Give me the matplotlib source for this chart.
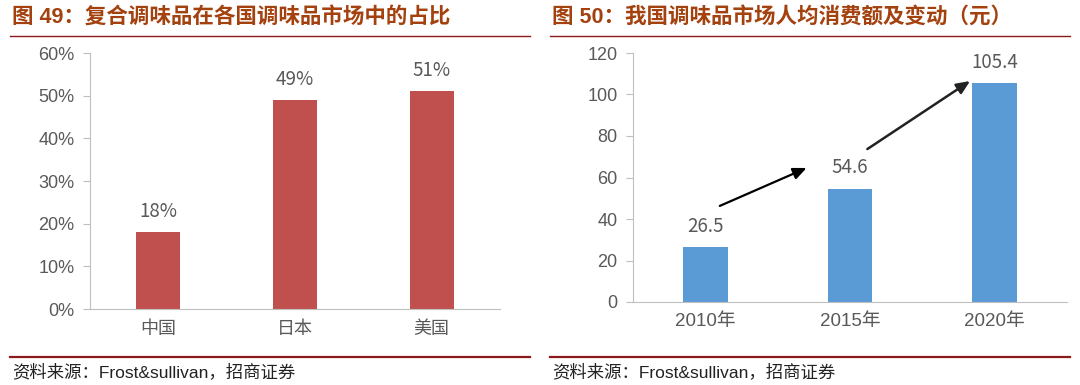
import matplotlib
matplotlib.use("Agg")
import matplotlib.pyplot as plt
from matplotlib.lines import Line2D

plt.rcParams['font.family'] = ['Liberation Sans', 'Noto Sans CJK SC', 'DejaVu Sans']
CJK = ['Noto Sans CJK SC', 'DejaVu Sans']

left_title = "图 49：复合调味品在各国调味品市场中的占比"
right_title = "图 50：我国调味品市场人均消费额及变动（元）"
source = "资料来源：Frost&sullivan，招商证券"

left_cats = ["中国", "日本", "美国"]
left_vals = [18, 49, 51]
left_ticks = [0, 10, 20, 30, 40, 50, 60]

right_cats = ["2010年", "2015年", "2020年"]
right_vals = [26.5, 54.6, 105.4]
right_ticks = [0, 20, 40, 60, 80, 100, 120]

W, H = 1080, 385
fig = plt.figure(figsize=(W / 100, H / 100), dpi=100)

title_color = "#A3410F"
line_color = "#8B1A1A"
tick_color = "#595959"
spine_color = "#BFBFBF"


def fx(px):
    return px / W


def fy(py):
    return 1 - py / H


# Titles, rules and sources
for x0, x1, t in [(10, 530, left_title), (550, 1070, right_title)]:
    fig.text(fx(x0 + 2), fy(18), t, fontsize=15.5, fontweight='bold',
             color=title_color, va='center', ha='left')
    fig.add_artist(Line2D([fx(x0), fx(x1)], [fy(36), fy(36)], color=line_color, lw=1.0))
    fig.add_artist(Line2D([fx(x0), fx(x1)], [fy(357), fy(357)], color=line_color, lw=1.6))
    fig.text(fx(x0 + 2), fy(372), source, fontsize=12.5, color="#222222", va='center', ha='left')

# Left chart
axL = fig.add_axes([fx(90), fy(309), fx(500) - fx(90), fy(53) - fy(309)])
xs = list(range(len(left_cats)))
axL.bar(xs, left_vals, width=0.32, color="#C0504D")
axL.set_xlim(-0.5, 2.5)
axL.set_ylim(0, 60)
axL.set_yticks(left_ticks)
axL.set_yticklabels([f"{v}%" for v in left_ticks])
axL.set_xticks(xs)
axL.set_xticklabels(left_cats, family=CJK, fontsize=13)
for x, v in zip(xs, left_vals):
    axL.annotate(f"{v}%", (x, v), xytext=(0, 15), textcoords='offset points',
                 ha='center', va='center', fontsize=13.5, color=tick_color, family=CJK)

# Right chart
axR = fig.add_axes([fx(633), fy(302), fx(1067) - fx(633), fy(53) - fy(302)])
xs2 = list(range(len(right_cats)))
axR.bar(xs2, right_vals, width=0.31, color="#5B9BD5")
axR.set_xlim(-0.5, 2.5)
axR.set_ylim(0, 120)
axR.set_yticks(right_ticks)
axR.set_xticks(xs2)
axR.set_xticklabels(right_cats, fontsize=13.5)
for x, v in zip(xs2, right_vals):
    axR.annotate(f"{v}", (x, v), xytext=(0, 15), textcoords='offset points',
                 ha='center', va='center', fontsize=13.5, color=tick_color, family=CJK)

axR.annotate("", xy=(0.70, 64.6), xytext=(0.10, 46.3),
             arrowprops=dict(arrowstyle="-|>,head_length=0.8,head_width=0.35", color="black",
                             lw=1.6, shrinkA=0, shrinkB=0))
axR.annotate("", xy=(1.83, 106.5), xytext=(1.12, 73.7),
             arrowprops=dict(arrowstyle="-|>,head_length=0.8,head_width=0.35", color="#222222",
                             lw=1.8, shrinkA=0, shrinkB=0))

for ax in (axL, axR):
    for s in ("top", "right"):
        ax.spines[s].set_visible(False)
    ax.spines["left"].set_color(spine_color)
    ax.spines["bottom"].set_color(spine_color)
    ax.tick_params(axis='y', colors=tick_color, labelsize=13, length=5, color=spine_color, pad=6)
    ax.tick_params(axis='x', colors=tick_color, length=0, pad=8)

fig.savefig("out.png", dpi=100)
